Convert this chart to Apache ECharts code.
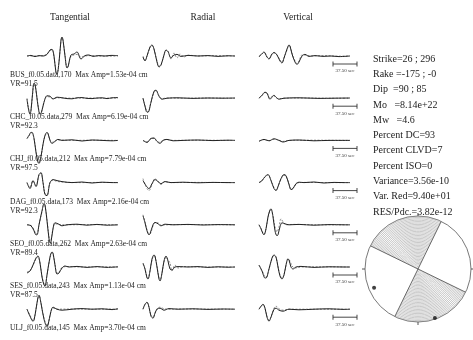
<!DOCTYPE html>
<html><head><meta charset="utf-8">
<script src="https://cdn.jsdelivr.net/npm/echarts@6/dist/echarts.min.js"></script>
<style>html,body{margin:0;padding:0;background:#fff}#c{width:473px;height:340px}</style>
</head><body><div id="c"></div>
<script>
// Moment tensor inversion: observed (solid) vs synthetic (dashed) displacement, per station
const stations = ['BUS','CHC','CHJ','DAG','SEO','SES','ULJ'];
const distances = [170,279,212,173,262,243,145];
const maxAmps = ['1.53e-04','6.19e-04','7.79e-04','2.16e-04','2.63e-04','1.13e-04','3.70e-04'];
const varRed = ['91.5','92.3','97.5','92.3','89.4','87.5',null];
const components = ['Tangential','Radial','Vertical'];
const DT = 1.5625;          // seconds per sample
const SCALE_SEC = 37.5;     // length of the time scale bar
const TRACE_SAMPLES = 92;

const solution = [
  'Strike=26 ; 296', 'Rake =-175 ; -0', 'Dip  =90 ; 85', 'Mo   =8.14e+22', 'Mw   =4.6',
  'Percent DC=93', 'Percent CLVD=7', 'Percent ISO=0', 'Variance=3.56e-10',
  'Var. Red=9.40e+01', 'RES/Pdc.=3.82e-12'
];
const nodalStrikes = [26, 296];
const shadedSectors = [[296, 386], [116, 206]];   // compressional quadrants (azimuth, deg)
const pAxis = [0.9, 247];   // [radius, azimuth]
const tAxis = [0.98, 161];

// [sample, amplitude / station max]
const BUS_T_obs = [[0,0],[4,0.03],[8,-0.03],[12,0.02],[16,0],[20,0.08],[23,0.3],[25,0.33],[27,0],[29,-0.85],[30,-0.9],[32,-0.3],[34,0.8],[35,0.95],[36,0.8],[38,0],[40,-0.6],[41,-0.55],[44,0.05],[47,0.1],[50,0.2],[54,-0.15],[58,0.02],[62,0.05],[66,-0.02],[72,0.02],[78,0],[84,0.03],[91,0.02]];
const BUS_T_syn = [[0,0],[8,0],[16,0.02],[20,0.1],[23,0.28],[25,0.3],[27,-0.05],[29,-0.8],[30,-0.85],[32,-0.3],[34,0.75],[35,0.9],[36,0.78],[38,0.05],[40,-0.55],[41,-0.5],[44,0],[47,0.05],[50,0.08],[54,-0.05],[58,0],[66,0.02],[76,-0.01],[91,0]];
const BUS_R_obs = [[0,-0.05],[2,-0.25],[4,0],[7,0.45],[9,0.55],[11,0.35],[14,-0.3],[16,-0.55],[18,-0.45],[21,0.05],[23,0.3],[25,0.22],[28,-0.1],[31,0.05],[34,0.08],[38,-0.02],[45,0.03],[55,0],[65,0.02],[75,-0.02],[85,0.01],[92,0]];
const BUS_R_syn = [[0,0],[2,-0.2],[4,0],[7,0.42],[9,0.52],[11,0.35],[14,-0.25],[16,-0.5],[18,-0.45],[21,0.05],[23,0.28],[25,0.25],[28,-0.15],[31,0.15],[34,-0.1],[37,0.1],[41,-0.05],[45,0.04],[55,0],[70,0.02],[92,0]];
const BUS_V_obs = [[0,-0.05],[3,0.12],[5,0.2],[8,-0.05],[10,-0.15],[13,0.1],[15,0.18],[18,0.05],[21,-0.25],[23,-0.35],[25,-0.1],[28,0.35],[30,0.55],[31,0.5],[33,0.1],[36,-0.3],[38,-0.42],[40,-0.3],[43,0],[46,0.08],[50,-0.02],[56,0.02],[64,-0.02],[72,0],[80,-0.03],[91,0]];
const BUS_V_syn = [[0,0],[3,0.1],[5,0.18],[8,-0.05],[10,-0.12],[13,0.1],[15,0.15],[18,0.05],[21,-0.2],[23,-0.3],[25,-0.1],[28,0.3],[30,0.5],[31,0.48],[33,0.15],[36,-0.25],[38,-0.38],[40,-0.25],[43,0.05],[46,0.05],[52,0],[65,0.02],[80,-0.01],[91,0]];

const CHC_T_obs = [[0,-0.05],[1.5,-0.55],[3,-0.8],[4,-0.6],[5.5,0.2],[7,0.75],[8,0.7],[9.5,0.2],[11.5,-0.55],[13,-0.8],[14.5,-0.7],[17,-0.2],[20,0.12],[23,0.1],[26,-0.04],[30,0.05],[35,0.02],[40,-0.02],[45,-0.03],[50,0.02],[55,0.03],[60,-0.01],[65,-0.02],[70,0.01],[75,0.02],[80,-0.02],[85,0.02],[91,0.03]];
const CHC_T_syn = [[0,0],[1.5,-0.5],[3,-0.75],[4,-0.6],[5.5,0.15],[7,0.7],[8,0.68],[9.5,0.2],[11.5,-0.5],[13,-0.75],[14.5,-0.68],[17,-0.2],[20,0.08],[23,0.06],[26,-0.02],[32,0.02],[45,0],[60,0.01],[75,0],[91,0.01]];
const CHC_R_obs = [[0,0],[2,-0.4],[4,-0.7],[5,-0.7],[8,-0.2],[11,0.35],[13,0.4],[16,0.1],[19,-0.05],[24,0],[35,0.02],[50,-0.01],[65,0.01],[80,0],[92,0.01]];
const CHC_R_syn = [[0,0],[2,-0.38],[4,-0.66],[5,-0.68],[8,-0.2],[11,0.3],[13,0.36],[16,0.12],[19,-0.02],[24,0.01],[40,0],[60,0.01],[92,0]];
const CHC_V_obs = [[0,0],[3,0.15],[6,0.3],[8,0.25],[11,-0.05],[13,0.05],[15,0.15],[17,0.05],[20,-0.05],[25,0],[40,0.02],[60,-0.01],[75,0],[91,0.01]];
const CHC_V_syn = [[0,0],[3,0.12],[6,0.28],[8,0.25],[11,0],[13,0.1],[15,0.12],[17,0.02],[20,-0.03],[25,0],[45,0.01],[70,0],[91,0]];

const CHJ_T_obs = [[0,0.1],[2,0.25],[4,0.4],[5,0.4],[7,0.1],[9,-0.6],[11,-1.1],[12,-1.15],[14,-0.8],[16,-0.2],[18,0.25],[20,0.4],[21,0.35],[23,0],[25,-0.15],[28,-0.05],[31,0.05],[35,0],[45,0.03],[55,-0.03],[65,0.02],[75,0],[85,-0.02],[91,0]];
const CHJ_T_syn = [[0,0.08],[2,0.22],[4,0.38],[5,0.38],[7,0.1],[9,-0.55],[11,-1.05],[12,-1.1],[14,-0.8],[16,-0.2],[18,0.22],[20,0.36],[21,0.33],[23,0.02],[25,-0.1],[28,-0.02],[32,0.02],[45,0],[65,0.01],[91,0]];
const CHJ_R_obs = [[0,0],[4,-0.1],[8,0.1],[11,0.12],[14,-0.05],[17,-0.15],[20,0],[24,0.05],[30,-0.02],[40,0],[55,0.02],[70,-0.01],[85,0.01],[92,0]];
const CHJ_R_syn = [[0,0],[4,-0.08],[8,0.08],[11,0.1],[14,-0.04],[17,-0.1],[20,0.02],[24,0.04],[30,0],[50,0.01],[92,0]];
const CHJ_V_obs = [[0,-0.05],[5,0.05],[10,-0.02],[15,0.08],[20,0],[24,-0.08],[30,0],[40,0.02],[55,-0.02],[70,0],[91,0]];
const CHJ_V_syn = [[0,-0.03],[5,0.04],[10,-0.02],[15,0.06],[20,0.01],[24,-0.05],[30,0],[50,0.01],[91,0]];

const DAG_T_obs = [[0,0],[3,-0.3],[6,0.1],[9,-0.2],[12,0.4],[14,0.5],[16,0],[18,-0.6],[20,-0.65],[23,0],[26,0.15],[30,0.1],[35,0.05],[45,0],[55,0.03],[65,-0.02],[75,0.02],[85,0],[91,0]];
const DAG_T_syn = [[0,0],[3,-0.25],[6,0.08],[9,-0.15],[12,0.38],[14,0.46],[16,0.02],[18,-0.55],[20,-0.6],[23,0],[26,0.12],[30,0.06],[38,0.02],[55,0],[75,0.01],[91,0]];
const DAG_R_obs = [[0,0.1],[3,-0.15],[6,-0.3],[9,-0.05],[12,0.15],[15,0.05],[18,-0.05],[22,0.05],[28,0],[40,0.02],[55,-0.01],[70,0.01],[85,0],[92,0]];
const DAG_R_syn = [[0,0.2],[3,-0.2],[6,-0.4],[9,-0.1],[12,0.2],[15,0.08],[18,-0.1],[22,0.05],[28,0],[50,0.01],[92,0]];
const DAG_V_obs = [[0,0],[3,0.1],[6,0.3],[9,0.4],[12,0.1],[15,-0.3],[17,-0.4],[19,-0.2],[22,0.2],[25,0.4],[27,0.35],[30,-0.1],[32,-0.35],[34,-0.3],[37,-0.05],[40,0.02],[45,0],[55,0.03],[65,-0.02],[75,0.01],[85,0],[91,0]];
const DAG_V_syn = [[0,0],[3,0.08],[6,0.28],[9,0.38],[12,0.12],[15,-0.25],[17,-0.36],[19,-0.2],[22,0.18],[25,0.36],[27,0.32],[30,-0.05],[32,-0.3],[34,-0.28],[37,-0.08],[40,0],[50,0.01],[70,0],[91,0]];

const SEO_T_obs = [[0,0],[4,-0.05],[7,-0.3],[9,-0.5],[10,-0.5],[12,0],[15,0.7],[17,1.05],[18,1.0],[20,0.2],[22,-0.7],[23,-0.9],[24,-0.85],[26,-0.2],[28,0.1],[31,0.05],[35,-0.05],[40,0],[50,0.03],[60,-0.02],[70,0.02],[80,-0.02],[91,0]];
const SEO_T_syn = [[0,0],[4,-0.03],[7,-0.25],[9,-0.45],[10,-0.45],[12,0],[15,0.65],[17,1.0],[18,0.95],[20,0.25],[22,-0.6],[23,-0.82],[24,-0.78],[26,-0.2],[28,0.06],[31,0.02],[40,0],[60,0.01],[91,0]];
const SEO_R_obs = [[0,0.45],[2,0.1],[4,-0.3],[6,-0.5],[7,-0.45],[10,0],[12,0.12],[15,0.05],[18,-0.05],[22,0.03],[30,0],[45,0.02],[60,-0.01],[75,0.01],[92,0]];
const SEO_R_syn = [[0,0.5],[2,0.15],[4,-0.25],[6,-0.45],[7,-0.45],[10,-0.05],[12,0.1],[15,0.1],[18,-0.02],[24,0],[45,0.01],[92,0]];
const SEO_V_obs = [[0,0],[2,-0.2],[4,-0.45],[5,-0.5],[7,-0.2],[9,0.4],[11,0.75],[12,0.8],[14,0.4],[16,-0.3],[18,-0.55],[19,-0.5],[21,-0.1],[23,0.1],[26,0.05],[30,0],[40,0.02],[55,-0.02],[70,0.01],[85,0],[91,0]];
const SEO_V_syn = [[0,0],[2,-0.18],[4,-0.42],[5,-0.46],[7,-0.2],[9,0.35],[11,0.7],[12,0.72],[14,0.45],[16,-0.1],[18,-0.35],[20,-0.1],[22,0.3],[24,0.15],[27,0],[35,0.02],[55,0],[91,0]];

const SES_T_obs = [[0,-0.3],[3,-0.2],[6,0.1],[9,0.45],[11,0.55],[13,0.2],[15,-0.5],[17,-0.9],[18,-0.95],[20,-0.4],[23,0.5],[25,0.75],[26,0.7],[28,0.1],[30,-0.35],[32,-0.3],[35,-0.05],[38,0.05],[42,0],[50,0.03],[60,-0.02],[70,0.02],[80,-0.02],[91,0.01]];
const SES_T_syn = [[0,-0.25],[3,-0.18],[6,0.08],[9,0.42],[11,0.5],[13,0.2],[15,-0.45],[17,-0.85],[18,-0.9],[20,-0.4],[23,0.45],[25,0.7],[26,0.66],[28,0.12],[30,-0.3],[32,-0.26],[35,-0.02],[40,0.02],[55,0],[75,0.01],[91,0]];
const SES_R_obs = [[0,0.2],[2,-0.1],[4,-0.55],[5,-0.6],[7,-0.2],[9,0.4],[11,0.6],[12,0.55],[14,0],[16,-0.6],[17,-0.7],[19,-0.3],[21,0.3],[23,0.55],[25,0.3],[27,-0.1],[29,-0.15],[32,0],[36,0.02],[45,0],[55,0.02],[65,-0.02],[75,0.01],[85,-0.01],[92,0]];
const SES_R_syn = [[0,0.15],[2,-0.1],[4,-0.5],[5,-0.55],[7,-0.2],[9,0.35],[11,0.55],[12,0.52],[14,0.02],[16,-0.55],[17,-0.62],[19,-0.3],[21,0.25],[23,0.5],[25,0.35],[27,0.2],[29,-0.2],[32,0.1],[35,-0.05],[40,0.02],[60,0],[92,0]];
const SES_V_obs = [[0,0.1],[3,-0.2],[6,-0.55],[7,-0.55],[10,-0.1],[13,0.45],[15,0.6],[17,0.5],[19,0],[21,-0.45],[23,-0.6],[25,-0.4],[27,0.1],[29,0.4],[30,0.35],[32,0],[34,-0.1],[37,0],[42,0.03],[55,-0.02],[70,0.01],[85,0],[91,0]];
const SES_V_syn = [[0,0.08],[3,-0.18],[6,-0.5],[7,-0.52],[10,-0.1],[13,0.42],[15,0.56],[17,0.48],[19,0.02],[21,-0.4],[23,-0.55],[25,-0.38],[27,0.08],[29,0.42],[31,0.3],[33,0.05],[36,-0.05],[42,0],[60,0.01],[91,0]];

const ULJ_T_obs = [[0,0],[3,-0.35],[6,-0.6],[7,-0.55],[9,0],[11,0.6],[12,0.7],[14,0.3],[17,-0.5],[20,-0.85],[21,-0.8],[24,-0.1],[26,0.1],[30,0],[35,-0.05],[45,0],[55,0.03],[65,0],[75,0.02],[85,-0.02],[91,0.02]];
const ULJ_T_syn = [[0,0],[3,-0.3],[6,-0.55],[7,-0.52],[9,0],[11,0.55],[12,0.66],[14,0.3],[17,-0.45],[20,-0.8],[21,-0.76],[24,-0.1],[26,0.06],[30,0],[45,0.01],[65,0],[91,0.01]];
const ULJ_R_obs = [[0,0],[2,0.25],[4,0.35],[6,0.1],[8,-0.35],[10,-0.45],[12,-0.2],[14,0],[17,0.05],[21,-0.05],[26,0.03],[35,0],[50,0.02],[65,-0.01],[80,0.01],[92,0]];
const ULJ_R_syn = [[0,0],[2,0.22],[4,0.32],[6,0.1],[8,-0.3],[10,-0.4],[12,-0.2],[14,0.02],[17,0.1],[21,0.02],[26,0],[40,0.01],[92,0]];
const ULJ_V_obs = [[0,0],[2,0.15],[4,0.25],[6,0.05],[8,-0.4],[10,-0.6],[12,-0.4],[15,0],[17,0.05],[20,-0.05],[24,-0.1],[30,0],[40,-0.03],[55,0],[70,0.02],[85,-0.01],[91,0]];
const ULJ_V_syn = [[0,0],[2,0.12],[4,0.22],[6,0.05],[8,-0.35],[10,-0.55],[12,-0.38],[15,0.05],[17,0.15],[20,0.02],[24,-0.05],[30,0],[45,0],[91,0]];

const traces = {
  BUS: [[BUS_T_obs, BUS_T_syn], [BUS_R_obs, BUS_R_syn], [BUS_V_obs, BUS_V_syn]],
  CHC: [[CHC_T_obs, CHC_T_syn], [CHC_R_obs, CHC_R_syn], [CHC_V_obs, CHC_V_syn]],
  CHJ: [[CHJ_T_obs, CHJ_T_syn], [CHJ_R_obs, CHJ_R_syn], [CHJ_V_obs, CHJ_V_syn]],
  DAG: [[DAG_T_obs, DAG_T_syn], [DAG_R_obs, DAG_R_syn], [DAG_V_obs, DAG_V_syn]],
  SEO: [[SEO_T_obs, SEO_T_syn], [SEO_R_obs, SEO_R_syn], [SEO_V_obs, SEO_V_syn]],
  SES: [[SES_T_obs, SES_T_syn], [SES_R_obs, SES_R_syn], [SES_V_obs, SES_V_syn]],
  ULJ: [[ULJ_T_obs, ULJ_T_syn], [ULJ_R_obs, ULJ_R_syn], [ULJ_V_obs, ULJ_V_syn]]
};

// ---- layout ----
const SERIF = '"Liberation Serif","Times New Roman",serif';
const colLeft = [27, 143, 259];
const headerX = [70, 203, 298];
const headerY = 17;
const rowLabelY0 = 75, rowStep = 42.2;
const pxPerUnit = 20;      // vertical pixels per normalized amplitude unit
const halfRange = 1.5;     // keeps every trace panel inside the canvas
const barLeft = 333;
const textLeft = 373, textTop = 59, textStep = 15.3;
const ballCenter = [418, 269], ballRadius = 53;

const grid = [], xAxis = [], yAxis = [], series = [], graphic = [];
function addAxes(gi, xmax, ymin, ymax) {
  xAxis.push({type: 'value', gridIndex: gi, min: 0, max: xmax, show: false});
  yAxis.push({type: 'value', gridIndex: gi, min: ymin, max: ymax, show: false});
}

stations.forEach((st, i) => {
  const labelY = rowLabelY0 + rowStep * i;
  const base = labelY - 19;
  components.forEach((c, j) => {
    const gi = grid.length;
    grid.push({left: colLeft[j], top: base - halfRange * pxPerUnit, width: TRACE_SAMPLES, height: 2 * halfRange * pxPerUnit});
    addAxes(gi, TRACE_SAMPLES, -halfRange, halfRange);
    const [obs, syn] = traces[st][j];
    series.push({
      type: 'line', xAxisIndex: gi, yAxisIndex: gi, data: syn, showSymbol: false, smooth: 0.35,
      lineStyle: {color: '#8a8a8a', width: 1, type: [2, 1.5]}, silent: true, z: 2
    });
    series.push({
      type: 'line', xAxisIndex: gi, yAxisIndex: gi, data: obs, showSymbol: false, smooth: 0.35,
      lineStyle: {color: '#222', width: 1}, silent: true, z: 3
    });
  });
  // time scale bar
  const barY = labelY - 11;
  const barSamples = SCALE_SEC / DT;
  const gi = grid.length;
  grid.push({left: barLeft, top: barY - 5, width: barSamples, height: 10});
  addAxes(gi, barSamples, -1, 1);
  series.push({
    type: 'line', xAxisIndex: gi, yAxisIndex: gi, data: [[0, 0], [barSamples, 0]],
    symbol: 'rect', symbolSize: [0.9, 5], showSymbol: true,
    itemStyle: {color: '#333'}, lineStyle: {color: '#333', width: 0.9}, silent: true
  });
  graphic.push({type: 'text', x: barLeft + barSamples / 2, y: labelY - 4,
    style: {text: SCALE_SEC.toFixed(2) + ' sec', font: '5px ' + SERIF, fill: '#333', textAlign: 'center', textVerticalAlign: 'middle'}});
  // station label
  graphic.push({type: 'text', x: 10, y: labelY,
    style: {text: st + '_f0.05.data,' + distances[i] + '  Max Amp=' + maxAmps[i] + ' cm', font: '7.5px ' + SERIF, fill: '#222', textVerticalAlign: 'middle'}});
  if (varRed[i]) {
    graphic.push({type: 'text', x: 10, y: labelY + 9,
      style: {text: 'VR=' + varRed[i], font: '7.5px ' + SERIF, fill: '#222', textVerticalAlign: 'middle'}});
  }
});

components.forEach((c, j) => {
  graphic.push({type: 'text', x: headerX[j], y: headerY,
    style: {text: c, font: '9.5px ' + SERIF, fill: '#222', textAlign: 'center', textVerticalAlign: 'middle'}});
});
solution.forEach((s, k) => {
  graphic.push({type: 'text', x: textLeft, y: textTop + textStep * k,
    style: {text: s, font: '10px ' + SERIF, fill: '#222', textVerticalAlign: 'middle'}});
});

// ---- focal mechanism (lower hemisphere) ----
const ringData = [];
const RINGS = 38;
shadedSectors.forEach(([a0, a1]) => {
  for (let k = 1; k <= RINGS; k++) {
    const r = k / RINGS;
    for (let a = a0; a <= a1; a += 2) ringData.push([r, a % 360]);
    ringData.push(['-', '-']);
  }
});
series.push({type: 'line', coordinateSystem: 'polar', data: ringData, showSymbol: false,
  lineStyle: {color: '#9a9a9a', width: 0.55}, silent: true, z: 1});
nodalStrikes.forEach(s => {
  series.push({type: 'line', coordinateSystem: 'polar', data: [[1, s], [0, 0], [1, (s + 180) % 360]],
    showSymbol: false, lineStyle: {color: '#444', width: 0.8}, silent: true, z: 2});
});
series.push({type: 'scatter', coordinateSystem: 'polar', data: [pAxis, tAxis], symbolSize: 4,
  itemStyle: {color: '#111'}, silent: true, z: 4});

const chart = echarts.init(document.getElementById('c'), null, {renderer: 'canvas'});
chart.setOption({
  animation: false,
  backgroundColor: '#fff',
  grid, xAxis, yAxis,
  polar: {center: ballCenter, radius: ballRadius},
  angleAxis: {type: 'value', min: 0, max: 360, startAngle: 90, clockwise: true,
    axisLine: {show: true, lineStyle: {color: '#555', width: 0.8}},
    axisTick: {show: true, length: 3, lineStyle: {color: '#555'}}, interval: 90,
    axisLabel: {show: false}, splitLine: {show: false}},
  radiusAxis: {type: 'value', min: 0, max: 1, show: false, axisLine: {show: false}, splitLine: {show: false}},
  series,
  graphic
});
</script>
</body></html>
